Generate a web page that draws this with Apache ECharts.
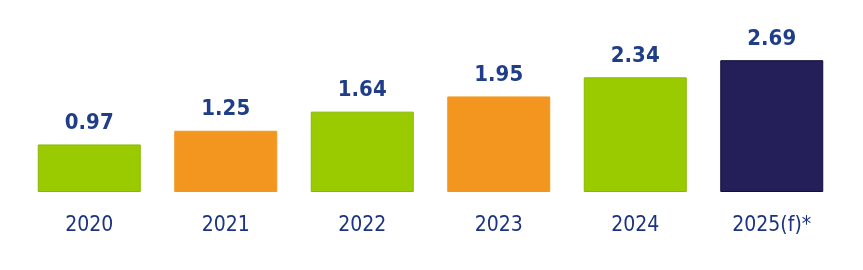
<!DOCTYPE html>
<html>
<head>
<meta charset="utf-8">
<script src="https://cdn.jsdelivr.net/npm/echarts@6/dist/echarts.min.js"></script>
<style>
html,body{margin:0;padding:0;background:#fff;}
#chart{width:863px;height:270px;}
</style>
</head>
<body>
<div id="chart"></div>
<script>
const categories = ['2020', '2021', '2022', '2023', '2024', '2025(f)*'];
const values = [0.97, 1.25, 1.64, 1.95, 2.34, 2.69];
const barColors = ['#99cb00', '#f3961f', '#99cb00', '#f3961f', '#99cb00', '#251f59'];
const borderColors = ['#86b800', '#f3961f', '#86b800', '#f3961f', '#86b800', '#110d3c'];

const chart = echarts.init(document.getElementById('chart'), null, {renderer: 'canvas'});
const FONT = "'Liberation Sans Narrow', 'DejaVu Sans Condensed', sans-serif";

chart.setOption({
  animation: false,
  backgroundColor: '#ffffff',
  grid: {left: 21, right: 23, top: 45, bottom: 78},
  xAxis: {
    type: 'category',
    data: categories,
    axisLine: {show: false},
    axisTick: {show: false},
    axisLabel: {
      margin: 23,
      color: '#1b3380',
      fontFamily: FONT,
      fontSize: 21
    }
  },
  yAxis: {
    type: 'value',
    min: 0,
    max: 3,
    show: false,
    splitLine: {show: false}
  },
  series: [{
    type: 'bar',
    barWidth: 103,
    data: values.map((v, i) => ({
      value: v,
      itemStyle: {color: barColors[i], borderColor: borderColors[i], borderWidth: 1}
    })),
    label: {
      show: true,
      position: 'top',
      distance: 10,
      color: '#1f3d88',
      fontFamily: FONT,
      fontWeight: 'bold',
      fontSize: 22,
      formatter: p => p.value.toFixed(2)
    }
  }]
});
</script>
</body>
</html>
